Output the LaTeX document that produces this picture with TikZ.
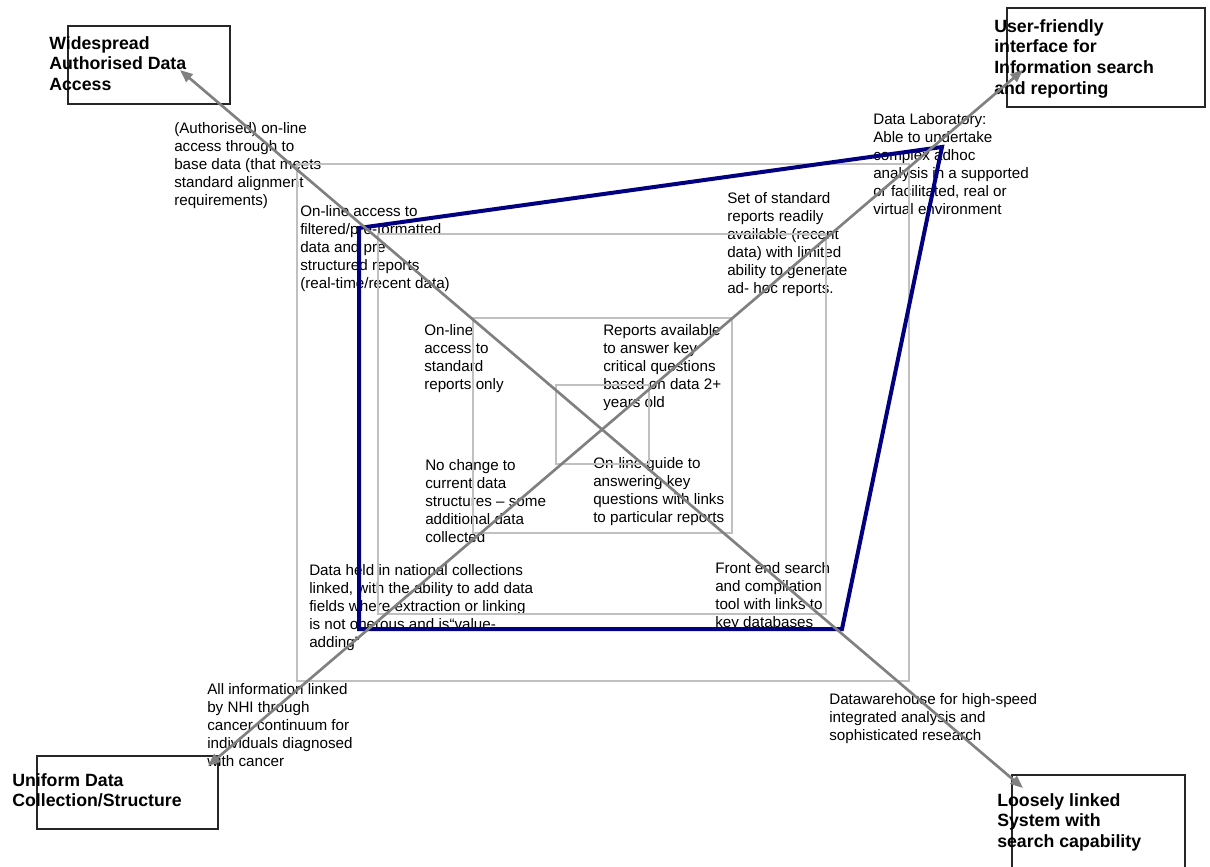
\documentclass[tikz,border=0pt]{standalone}
\usepackage{fontspec}
\setmainfont{Liberation Sans}
\usetikzlibrary{arrows.meta}
\definecolor{ringgray}{HTML}{C0C0C0}
\definecolor{axisgray}{HTML}{808080}
\definecolor{navyline}{HTML}{000080}
\begin{document}
\begin{tikzpicture}[x=0.75pt,y=-0.75pt,
  note/.style={anchor=north west, inner sep=0pt, align=left,
    font=\fontsize{11.4pt}{13.6pt}\selectfont},
  goal/.style={anchor=north west, inner sep=0pt, align=left,
    font=\fontsize{13.3pt}{15.6pt}\selectfont\bfseries},
  ring/.style={draw=ringgray, line width=0.8pt},
  goalbox/.style={draw=black!85, line width=0.8pt},
  tip/.style={Triangle[length=9.5pt,width=7.5pt]},
  axis/.style={draw=axisgray, line width=2pt, {Triangle[length=9.5pt,width=7.5pt]}-{Triangle[length=9.5pt,width=7.5pt]}},
  profile/.style={draw=navyline, line width=3pt, line join=miter}]
\useasboundingbox (0,0) rectangle (1210,867);

% ---- corner goals ----
\draw[goalbox] (68,26) rectangle (230,104);
\node[goal] (widespread) at (49,36) {Widespread\\Authorised Data\\Access};
\draw[goalbox] (1007,8) rectangle (1205,107);
\node[goal] (userfriendly) at (994,19) {User-friendly\\interface for\\Information search\\and reporting};
\draw[goalbox] (37,756) rectangle (218,829);
\node[goal] (uniform) at (12,773) {Uniform Data\\Collection/Structure};
\draw[goalbox] (1012,775) rectangle (1185,900);
\node[goal] (loosely) at (997,793) {Loosely linked\\System with\\search capability};

% ---- level descriptions ----
\node[note] (authorised) at (174,122) {(Authorised) on-line\\access through to\\base data (that meets\\standard alignment\\requirements)};
\node[note] (filtered) at (300,205) {On-line access to\\filtered/pre-formatted\\data and pre\\structured reports\\(real-time/recent data)};
\node[note] (standardset) at (727,192) {Set of standard\\reports readily\\available (recent\\data) with limited\\ability to generate\\ad- hoc reports.};
\node[note] (laboratory) at (873,113) {Data Laboratory:\\Able to undertake\\complex adhoc\\analysis in a supported\\or facilitated, real or\\virtual environment};
\node[note] (standardonly) at (424,324) {On-line\\access to\\standard\\reports only};
\node[note] (keyreports) at (603,324) {Reports available\\to answer key\\critical questions\\based on data 2+\\years old};
\node[note] (nochange) at (425,459) {No change to\\current data\\structures – some\\additional data\\collected};
\node[note] (guide) at (593,457) {On-line guide to\\answering key\\questions with links\\to particular reports};
\node[note] (national) at (309,564) {Data held in national collections\\linked, with the ability to add data\\fields where extraction or linking\\is not onerous and is“value-\\adding”};
\node[note] (frontend) at (715,562) {Front end search\\and compilation\\tool with links to\\key databases};
\node[note] (nhi) at (207,683) {All information linked\\by NHI through\\cancer continuum for\\individuals diagnosed\\with cancer};
\node[note] (warehouse) at (829,693) {Datawarehouse for high-speed\\integrated analysis and\\sophisticated research};

% ---- concentric maturity rings ----
\draw[ring] (297,164) rectangle (909,681);
\draw[ring] (378,234) rectangle (826,614);
\draw[ring] (473,318) rectangle (732,533);
\draw[ring] (556,385) rectangle (649,464);

% ---- current-state profile ----
\coordinate (p1) at (359,228);
\coordinate (p2) at (942,147);
\coordinate (p3) at (842,629);
\coordinate (p4) at (359,629);
\draw[profile] (p1) -- (p2) -- (p3) -- (p4) -- cycle;

% ---- axes ----
\coordinate (endWide) at (180,70);
\coordinate (endLoose) at (1023,788);
\coordinate (endUser) at (1023,70);
\coordinate (endUniform) at (208,766);
\draw[axis] (endWide) -- (endLoose);
\draw[axis] (endUniform) -- (endUser);
\end{tikzpicture}
\end{document}
